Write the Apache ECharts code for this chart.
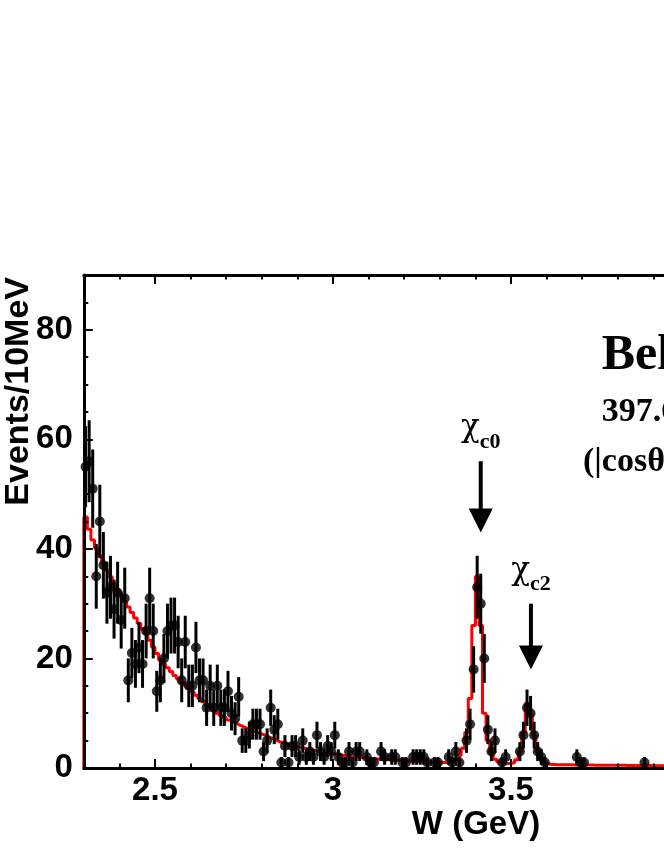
<!DOCTYPE html>
<html>
<head>
<meta charset="utf-8">
<script src="https://cdn.jsdelivr.net/npm/echarts@6/dist/echarts.min.js"></script>
<style>
html,body{margin:0;padding:0;background:#fff;overflow:hidden}
#main{width:900px;height:860px}
</style>
</head>
<body>
<div id="main"></div>
<script>
// 10 MeV bins starting at W = 2.30 GeV
var binStart = 2.30
var binWidth = 0.01

// events per bin, null = no point drawn
var counts = [
  55,56,51,35,45,37,32,33,29,32,
  27,31,16,21,19,22,19,25,31,25,
  14,16,20,25,26,26,23,16,23,15,
  15,22,16,16,11,15,11,15,11,11,
  14,10,9,13,5,5,6,8,8,8,
  3,5,11,7,8,1,4,1,4,4,
  2,5,2,3,2,6,3,2,4,3,
  6,2,1,1,3,1,3,3,null,2,
  1,1,null,3,2,null,2,2,null,1,
  1,null,2,2,2,2,1,null,1,1,
  null,null,2,1,3,1,null,5,8,18,
  33,30,20,7,3,5,null,1,2,null,
  null,null,3,6,11,10,6,3,2,1,
  null,null,null,null,null,null,null,null,2,1,
  1,null,null,null,null,null,null,null,null,null,
  null,null,null,null,null,null,null,1,null,null,
  null,null,null,null,null,null,null,null,null,null
]

// fit result drawn as red histogram, same bins
var fitValues = [
  45.8,43.6,41.6,40.1,38.7,37.3,36.1,34.9,33.7,32.6,
  31.5,30.4,29.4,28.4,27.4,26.4,25.4,24.5,23.3,22.1,
  20.9,19.7,19.0,18.3,17.6,16.9,16.3,15.7,15.1,14.5,
  13.9,13.3,12.7,12.1,11.5,10.9,10.5,10.0,9.6,9.2,
  8.75,8.4,8.1,7.8,7.5,7.2,6.95,6.7,6.45,6.2,
  6.0,5.7,5.4,5.1,4.8,4.6,4.45,4.25,4.05,3.9,
  3.75,3.6,3.45,3.3,3.2,3.05,2.95,2.8,2.7,2.6,
  2.5,2.4,2.3,2.2,2.1,2.0,1.95,1.9,1.85,1.8,
  1.75,1.7,1.65,1.6,1.55,1.5,1.45,1.4,1.35,1.3,
  1.3,1.25,1.2,1.2,1.15,1.1,1.1,1.05,1.0,1.0,
  1.0,1.0,1.05,1.2,1.6,2.3,3.6,6.5,12.7,26,
  35,26,10,5,2.6,1.6,1.1,0.9,0.8,0.8,
  1.0,1.5,3.0,6.5,11.8,9.8,6.0,3.0,1.6,1.0,
  0.7,0.65,0.6,0.6,0.6,0.6,0.6,0.55,0.55,0.55,
  0.55,0.55,0.55,0.5,0.5,0.5,0.5,0.5,0.5,0.5,
  0.5,0.5,0.45,0.45,0.45,0.45,0.45,0.45,0.45,0.45,
  0.4,0.4,0.4,0.4,0.4,0.4,0.4,0.4,0.4,0.4
]

var xMajor = [2.5, 3, 3.5, 4, 4.5]
var xMinor = [2.3,2.4,2.6,2.7,2.8,2.9,3.1,3.2,3.3,3.4,3.6,3.7,3.8,3.9,4.1,4.2,4.3,4.4]
var yMajor = [0, 20, 40, 60, 80]
var yMinor = [5,10,15,25,30,35,45,50,55,65,70,75,85]

// charmonium arrows
var peakNames = ['c0', 'c2']
var peakW = [3.415, 3.556]
var arrowTop = [56, 30]
var arrowTip = [43, 18]

var points = []
var errBars = []
for (var i = 0; i < counts.length; i++) {
  if (counts[i] === null) continue
  var w = +(binStart + binWidth * (i + 0.5)).toFixed(4)
  var e = Math.sqrt(counts[i])
  points.push([w, counts[i]])
  errBars.push([w, counts[i] - e, counts[i] + e])
}

var fitLine = [[binStart, 0]]
for (var j = 0; j < fitValues.length; j++) {
  var lo = +(binStart + binWidth * j).toFixed(4)
  var hi = +(binStart + binWidth * (j + 1)).toFixed(4)
  fitLine.push([lo, fitValues[j]], [hi, fitValues[j]])
}

var arrows = peakW.map(function (w, k) { return [w, arrowTop[k], arrowTip[k]] })

var labelFont = { fontSize: 33, fontWeight: 'bold', fontFamily: 'Liberation Sans', color: '#000' }

function xAx(pos, ticks, len, line, labels) {
  return {
    type: 'value', position: pos, min: 2.3, max: 4.5, z: 5,
    axisLine: { show: line, onZero: false, lineStyle: { color: '#000', width: 3 } },
    axisTick: { show: true, inside: true, length: len, customValues: ticks, lineStyle: { color: '#000', width: 2 } },
    axisLabel: labels ? Object.assign({ customValues: xMajor, margin: 6 }, labelFont) : { show: false },
    splitLine: { show: false }
  }
}
function yAx(pos, ticks, len, line, labels) {
  return {
    type: 'value', position: pos, min: 0, max: 90, z: 5,
    axisLine: { show: line, onZero: false, lineStyle: { color: '#000', width: 3 } },
    axisTick: { show: true, inside: true, length: len, customValues: ticks, lineStyle: { color: '#000', width: 2 } },
    axisLabel: labels ? Object.assign({ customValues: yMajor, margin: 11 }, labelFont) : { show: false },
    splitLine: { show: false }
  }
}

var chart = echarts.init(document.getElementById('main'), null, { renderer: 'canvas', devicePixelRatio: 1 })

chart.setOption({
  animation: false,
  backgroundColor: '#fff',
  grid: { left: 83.8, top: 275, width: 783.2, height: 493 },
  xAxis: [
    xAx('bottom', xMajor, 9, true, true),
    xAx('bottom', xMinor, 4.5, false, false),
    xAx('top', xMajor, 9, true, false),
    xAx('top', xMinor, 4.5, false, false)
  ],
  yAxis: [
    yAx('left', yMajor, 9, true, true),
    yAx('left', yMinor, 4.5, false, false),
    yAx('right', yMajor, 9, true, false),
    yAx('right', yMinor, 4.5, false, false)
  ],
  graphic: [
    { type: 'text', x: 19, y: 277, rotation: Math.PI / 2,
      style: { text: 'Events/10MeV', font: 'bold 34px "Liberation Sans"', fill: '#000', align: 'right', textAlign: 'right', verticalAlign: 'middle', textVerticalAlign: 'middle' } },
    { type: 'text', x: 476, y: 825,
      style: { text: 'W (GeV)', font: 'bold 33px "Liberation Sans"', fill: '#000', align: 'center', textAlign: 'center', verticalAlign: 'middle', textVerticalAlign: 'middle' } },
    { type: 'text', x: 601.7, y: 356.4,
      style: { text: 'Belle', font: 'bold 50px "Liberation Serif"', fill: '#000', align: 'left', textAlign: 'left', verticalAlign: 'middle', textVerticalAlign: 'middle' } },
    { type: 'text', x: 601.7, y: 411.8,
      style: { text: '397.6 fb⁻¹', font: 'bold 34px "Liberation Serif"', fill: '#000', align: 'left', textAlign: 'left', verticalAlign: 'middle', textVerticalAlign: 'middle' } },
    { type: 'text', x: 583, y: 461.8,
      style: { text: '(|cosθ*|<0.6)', font: 'bold 34px "Liberation Serif"', fill: '#000', align: 'left', textAlign: 'left', verticalAlign: 'middle', textVerticalAlign: 'middle' } }
  ],
  series: [
    {
      name: 'fit', type: 'line', data: fitLine, showSymbol: false, symbol: 'none',
      lineStyle: { color: '#ff0000', width: 3 }, clip: true, z: 2
    },
    {
      name: 'errors', type: 'custom', data: errBars, clip: true, z: 3,
      renderItem: function (params, api) {
        var a = api.coord([api.value(0), api.value(1)])
        var b = api.coord([api.value(0), api.value(2)])
        return { type: 'line', shape: { x1: a[0], y1: a[1], x2: b[0], y2: b[1] }, style: { stroke: '#000', lineWidth: 3 } }
      }
    },
    {
      name: 'data', type: 'scatter', data: points, symbol: 'circle', symbolSize: 10,
      itemStyle: { color: '#000' }, clip: true, z: 4
    },
    {
      name: 'arrows', type: 'custom', data: arrows, z: 4,
      renderItem: function (params, api) {
        var top = api.coord([api.value(0), api.value(1)])
        var tip = api.coord([api.value(0), api.value(2)])
        var x = top[0]
        return {
          type: 'group',
          children: [
            { type: 'line', shape: { x1: x, y1: top[1], x2: x, y2: tip[1] - 22 }, style: { stroke: '#000', lineWidth: 4 } },
            { type: 'polygon', shape: { points: [[x - 12, tip[1] - 24], [x + 12, tip[1] - 24], [x, tip[1]]] }, style: { fill: '#000' } },
            { type: 'text', x: x - 1, y: top[1] - 33,
              style: { text: 'χ', font: '31px "DejaVu Serif"', fill: '#000', align: 'right', textAlign: 'right', verticalAlign: 'middle', textVerticalAlign: 'middle' } },
            { type: 'text', x: x - 1, y: top[1] - 19,
              style: { text: peakNames[params.dataIndex], font: 'bold 22px "Liberation Serif"', fill: '#000', align: 'left', textAlign: 'left', verticalAlign: 'middle', textVerticalAlign: 'middle' } }
          ]
        }
      }
    }
  ]
})
</script>
</body>
</html>
